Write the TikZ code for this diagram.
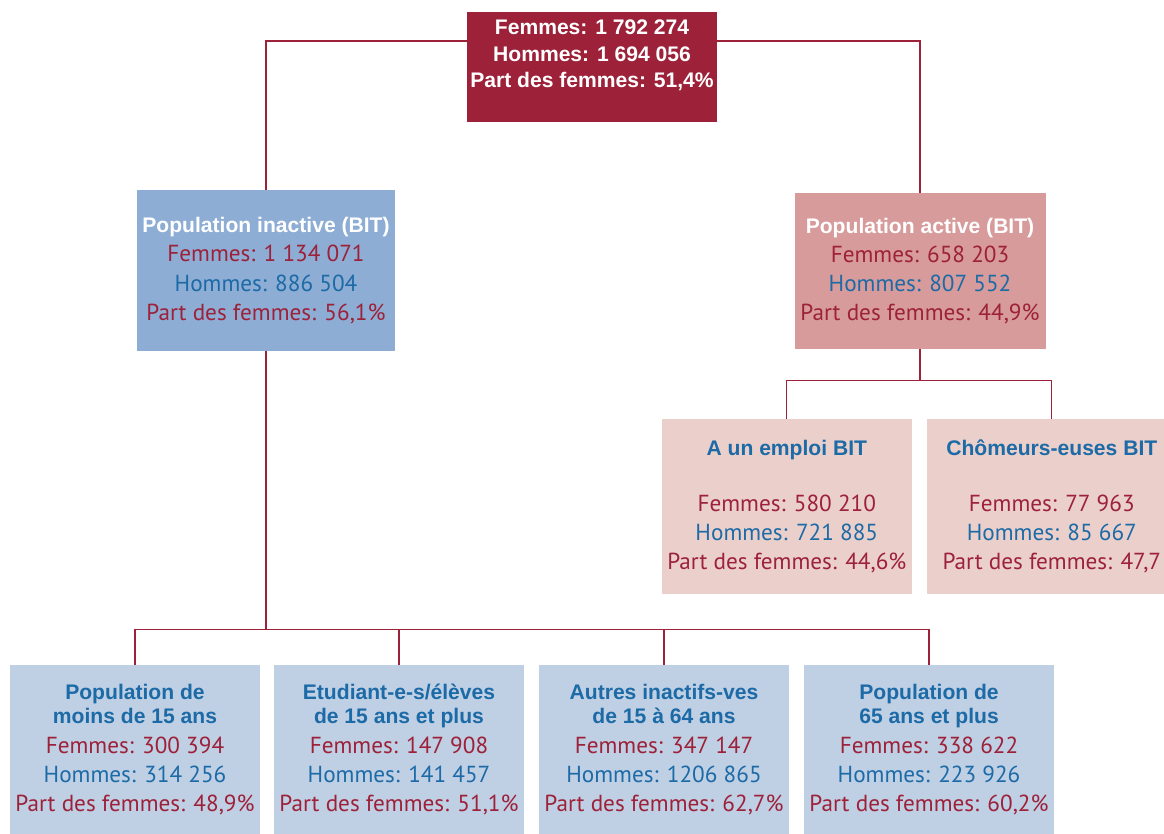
\documentclass[tikz,border=0pt]{standalone}
\usepackage{fontspec}
\setmainfont{PT Sans}
\newfontfamily\headfont{Liberation Sans}
\usetikzlibrary{positioning}
\definecolor{bordeaux}{HTML}{9C2139}
\definecolor{bleutxt}{HTML}{1C6AA6}
\definecolor{bleuinact}{HTML}{8DADD4}
\definecolor{roseact}{HTML}{D89B9B}
\definecolor{rosepale}{HTML}{EBCFCB}
\definecolor{bleupale}{HTML}{BFCFE4}
\newcommand{\titre}[2]{{\headfont\bfseries\fontsize{15}{18}\selectfont\color{#1}#2}}
\newcommand{\femmes}[1]{\textcolor{bordeaux}{Femmes: #1}}
\newcommand{\hommes}[1]{\textcolor{bleutxt}{Hommes: #1}}
\newcommand{\partfem}[1]{\textcolor{bordeaux}{Part des femmes: #1}}
\tikzstyle{link} = [draw=bordeaux, line width=0.9pt]
\tikzstyle{box} = [rectangle, minimum width=6.25cm, align=center, inner sep=0pt, font=\fontsize{16.5}{20.8}\selectfont]
\tikzstyle{topbox} = [box, fill=bordeaux, text=white, minimum height=2.75cm, font=\headfont\bfseries\fontsize{15}{19}\selectfont]
\tikzstyle{inact} = [box, fill=bleuinact, minimum width=6.45cm, minimum height=4.025cm]
\tikzstyle{act} = [box, fill=roseact, minimum width=6.275cm, minimum height=3.9cm]
\tikzstyle{sub} = [box, fill=rosepale, minimum height=4.375cm]
\tikzstyle{age} = [box, fill=bleupale, minimum height=4.225cm]
\begin{document}
\begin{tikzpicture}[node distance=5cm]
\useasboundingbox (0,0) rectangle (29.1,-20.85);
\node (top) [topbox] at (14.8,-1.675) {Femmes: 1 792 274\\Hommes: 1 694 056\\Part des femmes: 51,4\%\\ \mbox{}};
\node (inactive) [inact, below of=top, xshift=-8.15cm, yshift=-0.09cm] {\titre{white}{Population inactive (BIT)}\\\femmes{1 134 071}\\\hommes{886 504}\\\partfem{56,1\%}};
\node (active) [act, below of=top, xshift=8.2cm, yshift=-0.1cm] {\titre{white}{Population active (BIT)}\\\femmes{658 203}\\\hommes{807 552}\\\partfem{44,9\%}};
\node (emploi) [sub, below of=active, xshift=-3.33cm, yshift=-0.89cm] {\titre{bleutxt}{A un emploi BIT}\\[19pt]\femmes{580 210}\\\hommes{721 885}\\\partfem{44,6\%}};
\node (chomeurs) [sub, right of=emploi, xshift=1.625cm] {\titre{bleutxt}{Chômeurs-euses BIT}\\[19pt]\femmes{77 963}\\\hommes{85 667}\\\partfem{47,7}};
\node (moins15) [age, below of=inactive, xshift=-3.275cm, yshift=-6.975cm] {\titre{bleutxt}{Population de}\\[-3.5pt]\titre{bleutxt}{moins de 15 ans}\\\femmes{300 394}\\\hommes{314 256}\\\partfem{48,9\%}};
\node (etud) [age, right of=moins15, xshift=1.6cm] {\titre{bleutxt}{Etudiant-e-s/élèves}\\[-3.5pt]\titre{bleutxt}{de 15 ans et plus}\\\femmes{147 908}\\\hommes{141 457}\\\partfem{51,1\%}};
\node (autres) [age, right of=etud, xshift=1.625cm] {\titre{bleutxt}{Autres inactifs-ves}\\[-3.5pt]\titre{bleutxt}{de 15 à 64 ans}\\\femmes{347 147}\\\hommes{1206 865}\\\partfem{62,7\%}};
\node (plus65) [age, right of=autres, xshift=1.625cm] {\titre{bleutxt}{Population de}\\[-3.5pt]\titre{bleutxt}{65 ans et plus}\\\femmes{338 622}\\\hommes{223 926}\\\partfem{60,2\%}};
% liens du haut
\draw [link] ([yshift=0.65cm]top.west) -| (inactive.north);
\draw [link] ([yshift=0.65cm]top.east) -| (active.north);
% population active
\coordinate (bus1) at ([yshift=0.95cm]emploi.north);
\draw [link] (active.south) -- (active.south |- bus1);
\draw [link] (emploi.north) -- (bus1) -| (chomeurs.north);
% population inactive
\coordinate (bus2) at ([yshift=0.875cm]moins15.north);
\draw [link] (inactive.south) -- (inactive.south |- bus2);
\draw [link] (moins15.north) -- (bus2) -| (plus65.north);
\draw [link] (etud.north) -- (etud.north |- bus2);
\draw [link] (autres.north) -- (autres.north |- bus2);
\end{tikzpicture}
\end{document}
